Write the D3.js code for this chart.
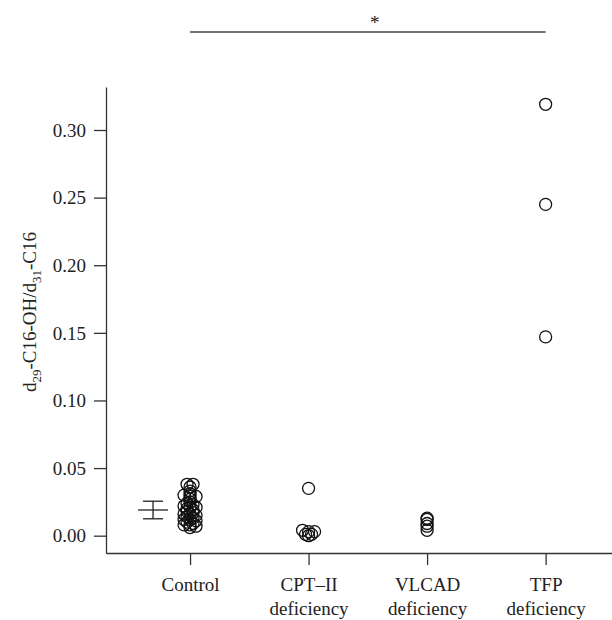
<!DOCTYPE html>
<html>
<head>
<meta charset="utf-8">
<script src="https://cdn.jsdelivr.net/npm/d3@7"></script>
<style>
  body { margin: 0; background: #fff; }
  text { font-family: "Liberation Serif", "DejaVu Serif", serif; fill: #222; }
</style>
</head>
<body>
<svg width="612" height="620"></svg>
<script>
// data
let groupLines = [["Control"], ["CPT\u2013II", "deficiency"], ["VLCAD", "deficiency"], ["TFP", "deficiency"]];
let controlValues = [0.038, 0.038, 0.036, 0.033, 0.031, 0.030, 0.029, 0.029, 0.027, 0.025,
  0.024, 0.023, 0.022, 0.021, 0.021, 0.020, 0.019, 0.018, 0.017, 0.016, 0.016, 0.015,
  0.014, 0.013, 0.012, 0.012, 0.011, 0.010, 0.009, 0.008, 0.008, 0.007, 0.006];
let cptValues = [0.035, 0.004, 0.003, 0.003, 0.001, 0.001, 0.000];
let vlcadValues = [0.013, 0.012, 0.009, 0.007, 0.004];
let tfpValues = [0.319, 0.245, 0.147];
let controlMean = 0.019;
let controlSd = 0.0065;
let yTicks = [0, 0.05, 0.10, 0.15, 0.20, 0.25, 0.30];
let sigText = "*";

let groups = [controlValues, cptValues, vlcadValues, tfpValues];

let svg = d3.select('svg');

// scales (group index 1..4 on x)
let x = d3.scaleLinear().domain([0.291, 4.56]).range([106, 612]);
let y = d3.scaleLinear().domain([-0.0128, 0.3318]).range([553, 87]);

// y axis
let yAxis = svg.append('g')
  .attr('transform', 'translate(106,0)')
  .call(d3.axisLeft(y).tickValues(yTicks).tickFormat(d3.format('.2f'))
    .tickSize(12).tickSizeOuter(0).tickPadding(8));
yAxis.selectAll('text').style('font-size', '19px').attr('dy', '0.33em');

// x axis
let xAxis = svg.append('g')
  .attr('transform', 'translate(0,553)')
  .call(d3.axisBottom(x).tickValues([1, 2, 3, 4]).tickFormat('')
    .tickSize(12).tickSizeOuter(0));
xAxis.selectAll('.tick text').remove();
xAxis.selectAll('.tick').each(function (d) {
  let t = d3.select(this).append('text')
    .attr('text-anchor', 'middle')
    .style('font-size', '19px')
    .attr('fill', '#222');
  groupLines[d - 1].forEach((line, i) => {
    t.append('tspan').attr('x', 0).attr('y', 38 + i * 24).text(line);
  });
});
svg.selectAll('.domain, .tick line').attr('stroke', '#333').attr('stroke-width', 1.3);

// y label with subscripts
let ylab = svg.append('text')
  .attr('transform', 'translate(36,312) rotate(-90)')
  .attr('text-anchor', 'middle')
  .style('font-size', '19px');
ylab.append('tspan').text('d');
ylab.append('tspan').text('29').style('font-size', '13px').attr('dy', 5);
ylab.append('tspan').text('-C16-OH/d').attr('dy', -5);
ylab.append('tspan').text('31').style('font-size', '13px').attr('dy', 5);
ylab.append('tspan').text('-C16').attr('dy', -5);

// stacked points: values close together sit side by side
function stack(values, bin, step) {
  let bins = d3.group(values, v => Math.round(v / bin + 1e-9));
  let out = [];
  bins.forEach(vs => {
    vs.forEach((v, i) => out.push({ v: v, off: (i - (vs.length - 1) / 2) * step }));
  });
  return out;
}

groups.forEach((vals, gi) => {
  svg.append('g')
    .selectAll('circle')
    .data(stack(vals, 0.002, 6))
    .enter()
    .append('circle')
      .attr('cx', d => x(gi + 1) + d.off)
      .attr('cy', d => y(d.v))
      .attr('r', 6)
      .attr('fill', 'none')
      .attr('stroke', '#111')
      .attr('stroke-width', 1.3);
});

// control mean +/- sd
let ex = x(1) - 37;
let eb = svg.append('g').attr('stroke', '#222').attr('stroke-width', 1.3);
eb.append('line').attr('x1', ex).attr('x2', ex)
  .attr('y1', y(controlMean - controlSd)).attr('y2', y(controlMean + controlSd));
eb.append('line').attr('x1', ex - 10).attr('x2', ex + 10)
  .attr('y1', y(controlMean + controlSd)).attr('y2', y(controlMean + controlSd));
eb.append('line').attr('x1', ex - 10).attr('x2', ex + 10)
  .attr('y1', y(controlMean - controlSd)).attr('y2', y(controlMean - controlSd));
eb.append('line').attr('x1', ex - 15).attr('x2', ex + 15)
  .attr('y1', y(controlMean)).attr('y2', y(controlMean));

// significance bar Control vs TFP
svg.append('line')
  .attr('x1', x(1)).attr('x2', x(4))
  .attr('y1', 32).attr('y2', 32)
  .attr('stroke', '#444').attr('stroke-width', 1.4);
svg.append('text')
  .attr('x', (x(1) + x(4)) / 2 + 7)
  .attr('y', 29)
  .attr('text-anchor', 'middle')
  .style('font-size', '19px')
  .text(sigText);
</script>
</body>
</html>
